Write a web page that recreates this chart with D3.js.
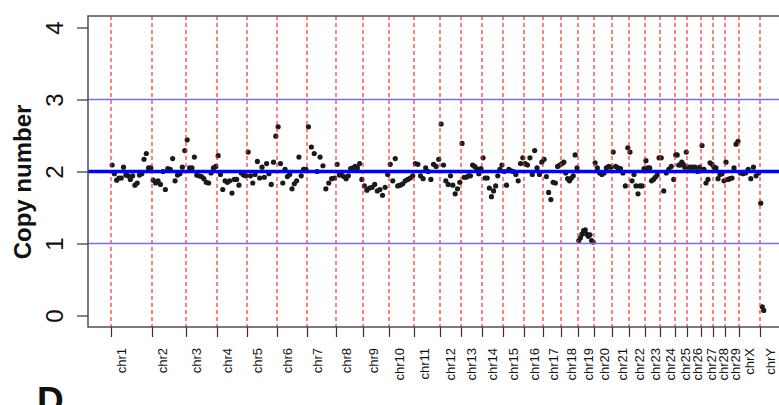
<!DOCTYPE html>
<html>
<head>
<meta charset="utf-8">
<script src="https://cdn.jsdelivr.net/npm/d3@7"></script>
<style>
  html, body { margin: 0; padding: 0; background: #fff; overflow: hidden; }
  svg { display: block; font-family: "Liberation Sans", Arial, sans-serif; }
</style>
</head>
<body>
<div id="chart"></div>
<script>
// chromosome names and start positions (approx. Mb along the concatenated genome)
const chromosomes = ["chr1", "chr2", "chr3", "chr4", "chr5", "chr6", "chr7", "chr8", "chr9", "chr10",
  "chr11", "chr12", "chr13", "chr14", "chr15", "chr16", "chr17", "chr18", "chr19", "chr20",
  "chr21", "chr22", "chr23", "chr24", "chr25", "chr26", "chr27", "chr28", "chr29", "chrX", "chrY"];
const chromStarts = [0, 164, 300, 424, 544, 664, 784, 900, 1008, 1112,
  1212, 1316, 1400, 1484, 1568, 1652, 1728, 1800, 1868, 1932,
  2004, 2072, 2136, 2196, 2256, 2304, 2360, 2408, 2456, 2512, 2596];
const genomeEnd = 2614;

// copy number per bin, one list per chromosome
const copyNumbers = [
  [2.09, 1.97, 1.88, 1.91, 1.91, 2.06, 1.95, 1.94, 1.89, 1.94, 1.81, 1.84, 1.95, 1.97, 2.17, 2.25, 2.05, 2.05],
  [1.88, 1.84, 1.87, 1.82, 2.0, 1.75, 2.04, 2.03, 2.18, 1.87, 1.95, 1.97, 2.06, 2.29],
  [2.44, 2.05, 2.05, 2.2, 1.95, 1.94, 1.93, 1.9, 1.85, 1.84, 1.98, 2.05, 2.07],
  [2.22, 1.96, 1.75, 1.87, 1.85, 1.87, 1.7, 1.89, 1.89, 1.81, 1.98, 1.95, 1.94],
  [2.27, 1.94, 1.84, 1.96, 2.14, 1.91, 2.06, 1.92, 2.11, 1.97, 1.82, 2.13, 2.49],
  [2.62, 2.11, 1.84, 2.03, 1.93, 1.96, 1.76, 1.83, 1.87, 2.2, 1.94, 2.03, 2.03],
  [2.62, 2.34, 2.25, 2.0, 2.2, 2.08, 1.76, 1.84, 1.9, 1.91],
  [2.1, 1.95, 1.95, 1.93, 1.9, 1.94, 2.04, 2.05, 2.07, 2.05, 2.11, 1.89],
  [1.8, 1.74, 1.77, 1.78, 1.82, 1.73, 1.75, 1.67, 1.78, 1.96],
  [2.1, 1.87, 2.18, 1.8, 1.81, 1.83, 1.87, 1.89, 1.91, 1.94],
  [2.11, 2.1, 1.94, 1.9, 2.05, 2.0, 1.89, 2.1, 2.07, 2.17],
  [2.66, 2.09, 1.87, 1.82, 1.94, 1.81, 1.69, 1.76, 1.85],
  [2.39, 1.92, 1.92, 1.94, 1.94, 2.09, 2.07, 2.04, 1.97, 2.04],
  [2.19, 1.91, 1.91, 1.77, 1.65, 1.73, 1.8, 1.94, 2.03, 2.09],
  [2.0, 1.81, 2.03, 2.01, 2.0, 1.96, 1.87, 2.11, 2.19],
  [2.11, 2.09, 2.19, 1.96, 2.29, 2.05, 1.96, 2.13],
  [2.17, 1.93, 1.71, 1.61, 1.85, 1.84, 2.07, 2.09],
  [2.11, 2.13, 1.98, 1.9, 1.87, 1.91, 1.94, 2.23, 2.05],
  [1.04, 1.08, 1.13, 1.18, 1.19, 1.13, 1.1, 1.12, 1.04, 1.02],
  [2.12, 2.05, 1.98, 1.96, 1.98, 2.05, 2.07, 2.06],
  [2.27, 2.07, 2.05, 2.04, 1.98, 1.8, 2.33],
  [2.27, 1.87, 1.96, 1.8, 1.69, 1.8, 1.8, 2.04],
  [2.15, 2.05, 2.05, 1.87, 1.89, 1.92, 1.95, 2.19],
  [2.19, 1.73, 1.98, 2.03, 2.07, 1.89],
  [2.23, 2.23, 2.09, 2.09, 2.13, 2.1, 2.06, 2.27],
  [2.06, 2.06, 2.06, 2.06, 2.0, 2.06],
  [2.36, 2.03, 1.84, 1.89, 2.12, 2.1],
  [2.06, 2.05, 1.9, 1.96, 1.97, 1.87],
  [2.13, 1.89, 1.9, 1.91, 2.05, 2.38, 2.42],
  [1.98, 1.97, 1.98, 2.03, 1.9, 2.06, 1.94, 1.98],
  [1.56, 0.12, 0.07]
];

const yTicks = [0, 1, 2, 3, 4];
const thinLines = [1, 3];
const ploidyLine = 2;

(function() {
  const width = 779, height = 405;
  const plot = { left: 88, top: 16, bottom: 327, right: 791 };

  // bins are spread evenly across each chromosome
  const points = [];
  copyNumbers.forEach((vals, ci) => {
    const start = chromStarts[ci];
    const end = ci + 1 < chromStarts.length ? chromStarts[ci + 1] : genomeEnd;
    const step = (end - start) / vals.length;
    vals.forEach((v, i) => points.push({ pos: start + (i + 0.5) * step, cn: v }));
  });

  const svg = d3.select("#chart")
    .append("svg")
    .attr("width", width)
    .attr("height", height);

  const x = d3.scaleLinear()
    .domain([-92, 2720])
    .range([plot.left, plot.right]);

  const y = d3.scaleLinear()
    .domain([-0.16, 4.16])
    .range([plot.bottom, plot.top]);

  svg.append("defs").append("clipPath")
    .attr("id", "plot-clip")
    .append("rect")
    .attr("x", plot.left)
    .attr("y", plot.top)
    .attr("width", plot.right - plot.left)
    .attr("height", plot.bottom - plot.top);

  const inner = svg.append("g").attr("clip-path", "url(#plot-clip)");

  inner.selectAll(".pt")
    .data(points)
    .enter()
    .append("circle")
    .attr("class", "pt")
    .attr("cx", d => x(d.pos))
    .attr("cy", d => y(d.cn))
    .attr("r", 2.6)
    .attr("fill", "#1a1a1a");

  inner.selectAll(".chr-line")
    .data(chromStarts)
    .enter()
    .append("line")
    .attr("class", "chr-line")
    .attr("x1", d => x(d))
    .attr("x2", d => x(d))
    .attr("y1", plot.top)
    .attr("y2", plot.bottom)
    .attr("stroke", "#ff1a1a")
    .attr("stroke-width", 1.1)
    .attr("stroke-dasharray", "4,3");

  inner.selectAll(".thin-line")
    .data(thinLines)
    .enter()
    .append("line")
    .attr("class", "thin-line")
    .attr("x1", plot.left)
    .attr("x2", plot.right)
    .attr("y1", d => y(d))
    .attr("y2", d => y(d))
    .attr("stroke", "#6f6fff")
    .attr("stroke-width", 1.5);

  inner.append("line")
    .attr("x1", plot.left)
    .attr("x2", plot.right)
    .attr("y1", y(ploidyLine))
    .attr("y2", y(ploidyLine))
    .attr("stroke", "#0000ff")
    .attr("stroke-width", 3.5);

  // frame
  svg.append("rect")
    .attr("x", plot.left)
    .attr("y", plot.top)
    .attr("width", plot.right - plot.left)
    .attr("height", plot.bottom - plot.top)
    .attr("fill", "none")
    .attr("stroke", "#444")
    .attr("stroke-width", 1.4);

  // y axis
  const yAxis = svg.append("g")
    .attr("transform", `translate(${plot.left},0)`)
    .call(d3.axisLeft(y).tickValues(yTicks).tickSize(11).tickFormat(d3.format("d")));
  yAxis.select(".domain").remove();
  yAxis.selectAll(".tick line").attr("stroke", "#333").attr("stroke-width", 1.2);
  yAxis.selectAll(".tick text")
    .attr("x", null)
    .attr("dy", null)
    .attr("transform", "translate(-25,0) rotate(-90)")
    .attr("text-anchor", "middle")
    .attr("fill", "#111")
    .style("font-size", "24px")
    .style("font-family", "'Liberation Sans', Arial, sans-serif");

  // x axis
  const xAxis = svg.append("g")
    .attr("transform", `translate(0,${plot.bottom})`)
    .call(d3.axisBottom(x).tickValues(chromStarts).tickSize(10).tickFormat((d, i) => chromosomes[i]));
  xAxis.select(".domain").remove();
  xAxis.selectAll(".tick line").attr("stroke", "#333").attr("stroke-width", 1.2);
  xAxis.selectAll(".tick text")
    .attr("y", null)
    .attr("dy", null)
    .attr("transform", "translate(14.5,21) rotate(-90)")
    .attr("text-anchor", "end")
    .attr("fill", "#111")
    .style("font-size", "13px")
    .style("font-family", "'Liberation Sans', Arial, sans-serif");

  svg.append("text")
    .attr("transform", "translate(31,182) rotate(-90)")
    .attr("text-anchor", "middle")
    .style("font-size", "24px")
    .style("font-weight", "bold")
    .attr("fill", "#111")
    .text("Copy number");

  // next panel letter, cut off at the bottom as in the source figure
  svg.append("text")
    .attr("x", 37)
    .attr("y", 413)
    .style("font-size", "37px")
    .style("font-weight", "bold")
    .attr("fill", "#111")
    .text("D");
})();
</script>
</body>
</html>
